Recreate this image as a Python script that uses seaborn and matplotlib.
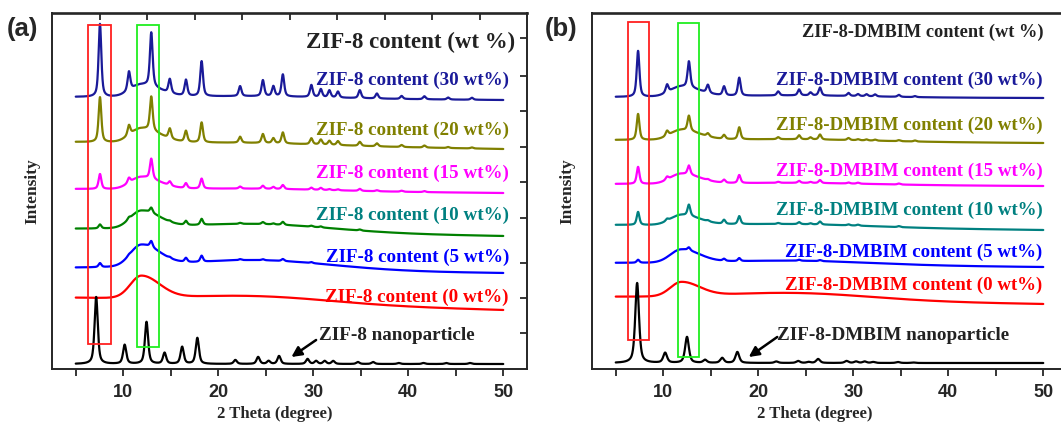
import numpy as np
import pandas as pd
import matplotlib
matplotlib.use("Agg")
import matplotlib.pyplot as plt
from matplotlib.patches import Rectangle
import seaborn as sns

# ---------------------------------------------------------------- data
TWO_THETA_MIN, TWO_THETA_MAX = 5.0, 50.0

# Panel (a): ZIF-8 nanoparticles and ZIF-8 filled membranes
a_nano_pos = [7.15, 10.15, 12.45, 14.35, 16.2, 17.8, 21.8, 24.2, 25.3, 26.4,
              29.4, 30.3, 31.2, 32.1, 34.7, 36.3, 39.0, 41.6, 44.0, 46.5]
a_nano_int = [67, 19, 42, 11, 17, 26, 4, 7, 3, 8,
              5, 3, 3, 3, 2, 2, 1, 1, 1, 1]
a_nano_base = 5

a_comp_pos = [7.55, 10.6, 12.95, 14.9, 16.6, 18.25, 22.3, 24.7, 25.8, 26.8,
              29.8, 30.8, 31.7, 32.6, 34.9, 36.7, 39.3, 41.7, 44.2, 46.7]
a_wt = ["30", "20", "15", "10", "5", "0"]
a_int_30 = [73, 19, 54, 14, 16, 35, 10, 16, 10, 22, 12, 8, 7, 6, 8, 5, 3, 3, 2, 2]
a_int_20 = [45, 10, 34, 10, 11, 20, 6, 9, 5, 11, 6, 5, 4, 4, 4, 3, 2, 2, 1, 1]
a_int_15 = [15, 5, 20, 4, 5, 10, 2, 3, 2, 4, 2, 2, 1, 1, 2, 1, 1, 1, 0, 0]
a_int_10 = [4, 2, 5, 1, 4, 6, 1, 2, 1, 3, 1, 1, 0, 0, 1, 0, 0, 0, 0, 0]
a_int_5 = [4, 1, 6, 1, 4, 6, 1, 1, 0, 2, 1, 0, 0, 0, 0, 0, 0, 0, 0, 0]
a_int_0 = [0] * 20
a_base_start = [272, 227, 180, 140, 101, 71]
a_base_end = [269, 220, 176, 133, 96, 59]
a_hump_main = [12, 14, 12, 17, 21, 22]
a_hump_broad = [2, 2, 2, 8, 10, 7]

# Panel (b): ZIF-8-DMBIM nanoparticles and ZIF-8-DMBIM filled membranes
b_nano_pos = [7.25, 10.2, 12.5, 14.4, 16.2, 17.8, 21.9, 24.2, 25.3, 26.3,
              29.3, 30.3, 31.2, 32.1, 34.7, 36.3]
b_nano_int = [80, 10, 26, 3, 5, 11, 1.5, 2, 1, 4, 2, 1.5, 1.5, 1, 1, 0.5]
b_nano_base = 6

b_comp_pos = [7.35, 10.4, 12.7, 14.7, 16.4, 18.0, 22.1, 24.3, 25.5, 26.5,
              29.5, 30.5, 31.4, 32.3, 34.8, 36.5]
b_wt = ["30", "20", "15", "10", "5", "0"]
b_int_30 = [46, 8, 26, 8, 9, 18, 4, 6, 3, 8, 3, 2, 2, 2, 2, 1]
b_int_20 = [26, 5, 15, 3, 4, 12, 2, 4, 2, 5, 2, 1, 1, 1, 1, 1]
b_int_15 = [17, 3, 9, 1, 3, 8, 1, 2, 1, 3, 1, 1, 0, 0, 1, 0]
b_int_10 = [13, 2, 11, 1, 4, 8, 1, 2, 1, 3, 1, 1, 0, 0, 1, 0]
b_int_5 = [3, 0, 3, 0, 2, 3, 0, 1, 0, 1, 0, 0, 0, 0, 0, 0]
b_int_0 = [0] * 16
b_base_start = [272, 229, 185, 144, 106, 72]
b_base_end = [271, 226, 183, 139, 102, 65]
b_hump_main = [10, 10, 10, 10, 13, 14]
b_hump_broad = [2, 2, 2, 3, 4, 7]

# right-hand tick positions of panel (a)
a_right_ticks = [331, 293, 258, 222, 187, 151, 106, 71, 36]

# ---------------------------------------------------------------- styling
sns.set_style("ticks")
SERIF = ["Liberation Serif", "DejaVu Serif"]
SANS = ["Liberation Sans", "DejaVu Sans"]
plt.rcParams["font.family"] = SANS

comp_line_a = ["#1a1a99", "#808000", "#ff00ff", "#008000", "#0000ff", "#ff0000"]
comp_text_a = ["#1a1a99", "#808000", "#ff00ff", "#008080", "#0000ff", "#ff0000"]
comp_line_b = ["#1a1a99", "#808000", "#ff00ff", "#008080", "#0000ff", "#ff0000"]
comp_text_b = comp_line_b

x = np.linspace(TWO_THETA_MIN, TWO_THETA_MAX, 3000)


def pseudo_voigt(x, pos, fwhm, eta=0.6):
    g = np.exp(-4 * np.log(2) * (x - pos) ** 2 / fwhm ** 2)
    l = 1.0 / (1.0 + 4 * (x - pos) ** 2 / fwhm ** 2)
    return eta * l + (1 - eta) * g


def pattern(pos, heights, fwhm):
    y = np.zeros_like(x)
    for p, h in zip(pos, heights):
        if h:
            y += h * pseudo_voigt(x, p, fwhm)
    return y


def amorphous(start, end, main, broad):
    base = start + (end - start) * (x - TWO_THETA_MIN) / (TWO_THETA_MAX - TWO_THETA_MIN)
    sig = np.where(x < 11.9, 1.15, 1.9)
    hump = main * np.exp(-0.5 * ((x - 11.9) / sig) ** 2)
    wide = broad * np.exp(-0.5 * ((x - 24.0) / 8.0) ** 2)
    return base + hump + wide


def build_frame(prefix, nano_pos, nano_int, nano_base, comp_pos, comp_ints,
                starts, ends, mains, broads, wts, nano_fwhm, comp_fwhm):
    frames = []
    for wt, ints, s, e, m, b in zip(wts, comp_ints, starts, ends, mains, broads):
        y = amorphous(s, e, m, b) + pattern(comp_pos, ints, comp_fwhm)
        frames.append(pd.DataFrame({"two_theta": x, "intensity": y,
                                    "sample": f"{prefix} {wt}"}))
    y = nano_base + pattern(nano_pos, nano_int, nano_fwhm)
    frames.append(pd.DataFrame({"two_theta": x, "intensity": y,
                                "sample": f"{prefix} nano"}))
    return pd.concat(frames, ignore_index=True)


df_a = build_frame("a", a_nano_pos, a_nano_int, a_nano_base, a_comp_pos,
                   [a_int_30, a_int_20, a_int_15, a_int_10, a_int_5, a_int_0],
                   a_base_start, a_base_end, a_hump_main, a_hump_broad, a_wt,
                   0.4, 0.34)
df_b = build_frame("b", b_nano_pos, b_nano_int, b_nano_base, b_comp_pos,
                   [b_int_30, b_int_20, b_int_15, b_int_10, b_int_5, b_int_0],
                   b_base_start, b_base_end, b_hump_main, b_hump_broad, b_wt,
                   0.47, 0.34)

pal_a = {f"a {w}": c for w, c in zip(a_wt, comp_line_a)}
pal_a["a nano"] = "black"
pal_b = {f"b {w}": c for w, c in zip(b_wt, comp_line_b)}
pal_b["b nano"] = "black"

W, H = 1061, 424
fig = plt.figure(figsize=(W / 100, H / 100), dpi=100)
ax_a = fig.add_axes([52 / W, (H - 369) / H, 475 / W, 356 / H])
ax_b = fig.add_axes([592 / W, (H - 369) / H, 475 / W, 356 / H])

for ax, df, pal in [(ax_a, df_a, pal_a), (ax_b, df_b, pal_b)]:
    sns.lineplot(data=df, x="two_theta", y="intensity", hue="sample",
                 palette=pal, estimator=None, sort=False, legend=False,
                 linewidth=1.6, ax=ax)
    ax.set_xlim(2.5, 52.5)
    ax.set_ylim(0, 356)
    ax.set_xticks([10, 20, 30, 40, 50])
    ax.set_xticks([5, 15, 25, 35, 45], minor=True)
    ax.tick_params(axis="x", which="both", direction="out", length=5, width=1.3,
                   labelsize=13, pad=6)
    for lab in ax.get_xticklabels():
        lab.set_fontweight("bold")
        lab.set_family(SANS)
    ax.set_xlabel("2 Theta (degree)", family=SERIF, fontweight="bold", fontsize=12)
    ax.xaxis.set_label_coords(0.469, -0.105)
    ax.set_ylabel("Intensity", family=SERIF, fontweight="bold", fontsize=12.5)
    for sp in ax.spines.values():
        sp.set_visible(True)
        sp.set_linewidth(1.4)
    ax.spines["top"].set_linewidth(1.9)

# panel (a) tick decorations
ax_a.set_yticks(a_right_ticks)
ax_a.tick_params(axis="y", left=False, right=True, direction="in", length=5,
                 width=1.3, labelleft=False)
ax_a.yaxis.set_label_coords(-0.024, 0.5)
top = ax_a.secondary_xaxis("top")
top.set_xticks([7.5, 12.5, 17.5, 22.5, 27.5, 32.5, 37.5, 42.5, 47.5])
top.tick_params(direction="in", length=5, width=1.3, labeltop=False)
top.spines["top"].set_visible(False)

ax_b.set_yticks([])
ax_b.yaxis.set_label_coords(-0.034, 0.5)

# highlight boxes for the two strongest reflections
boxes = {
    ax_a: [(6.3, 8.75, 25, 344, "#ff2020"), (11.4, 13.8, 22, 344, "#20ee20")],
    ax_b: [(6.3, 8.5, 29, 347, "#ff2020"), (11.6, 13.8, 12, 346, "#20ee20")],
}
for ax, items in boxes.items():
    for x0, x1, y0, y1, col in items:
        ax.add_patch(Rectangle((x0, y0), x1 - x0, y1 - y0, fill=False,
                               edgecolor=col, linewidth=1.3, zorder=5))

# series labels
a_label_y = [289, 239, 196, 154, 112, 72]
for wt, yy, col in zip(a_wt, a_label_y, comp_text_a):
    ax_a.text(50.6, yy, f"ZIF-8 content ({wt} wt%)", ha="right", va="center",
              color=col, family=SERIF, fontweight="bold", fontsize=13.7)
ax_a.text(51.2, 327, "ZIF-8 content (wt %)", ha="right", va="center",
          color="#222222", family=SERIF, fontweight="bold", fontsize=16.5)
ax_a.text(30.6, 34, "ZIF-8 nanoparticle", ha="left", va="center",
          color="#222222", family=SERIF, fontweight="bold", fontsize=13.8)
ax_a.annotate("", xy=(27.7, 12), xytext=(30.3, 29),
              arrowprops=dict(arrowstyle="-|>", color="black", lw=1.8,
                              mutation_scale=15, shrinkA=0, shrinkB=0))

b_label_y = [289, 244, 198, 159, 117, 84]
for wt, yy, col in zip(b_wt, b_label_y, comp_text_b):
    ax_b.text(49.9, yy, f"ZIF-8-DMBIM content ({wt} wt%)", ha="right",
              va="center", color=col, family=SERIF, fontweight="bold",
              fontsize=13.6)
ax_b.text(50.0, 337, "ZIF-8-DMBIM content (wt %)", ha="right", va="center",
          color="#222222", family=SERIF, fontweight="bold", fontsize=13.2)
ax_b.text(22.0, 33, "ZIF-8-DMBIM nanoparticle", ha="left", va="center",
          color="#222222", family=SERIF, fontweight="bold", fontsize=13.8)
ax_b.annotate("", xy=(19.0, 12), xytext=(22.0, 32),
              arrowprops=dict(arrowstyle="-|>", color="black", lw=1.8,
                              mutation_scale=15, shrinkA=0, shrinkB=0))

fig.text(7 / W, 1 - 29 / H, "(a)", ha="left", va="center", family=SANS,
         fontweight="bold", fontsize=18.5)
fig.text(545 / W, 1 - 29 / H, "(b)", ha="left", va="center", family=SANS,
         fontweight="bold", fontsize=18.5)

fig.savefig("out.png", dpi=100)
